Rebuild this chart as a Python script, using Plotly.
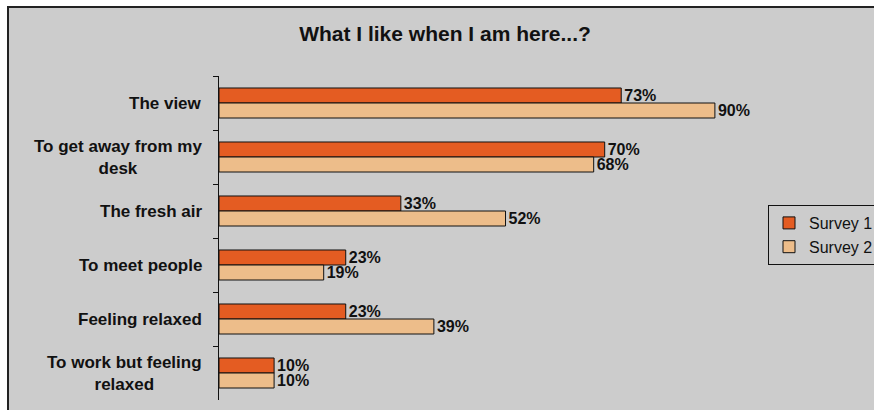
import plotly.graph_objects as go

categories = ["The view", "To get away from my desk", "The fresh air",
              "To meet people", "Feeling relaxed", "To work but feeling relaxed"]
category_labels = ["The view", "To get away from my<br>desk", "The fresh air",
                   "To meet people", "Feeling relaxed", "To work but feeling<br>relaxed"]
survey1 = [0.73, 0.70, 0.33, 0.23, 0.23, 0.10]
survey2 = [0.90, 0.68, 0.52, 0.19, 0.39, 0.10]
series_names = ["Survey 1", "Survey 2"]
colors = ["#E45C22", "#EDBD8A"]

W, H = 874, 410
L, R, T, B = 219, 104, 76, 10
pw = W - L - R
ph = H - T - B

fig = go.Figure()
for name, vals, col in zip(series_names, [survey1, survey2], colors):
    fig.add_trace(go.Bar(
        y=categories, x=vals, name=name, orientation="h",
        marker=dict(color=col, line=dict(color="#111111", width=1)),
        texttemplate="<b>%{x:.0%}</b>", textposition="outside",
        constraintext="none",
        textfont=dict(family="Liberation Sans, Arial", size=16, color="#111111"),
        cliponaxis=False,
    ))

def px_x(p):
    return (p - L) / pw

def px_y(p):
    return (H - B - p) / ph

shapes = [dict(type="rect", xref="paper", yref="paper",
               x0=px_x(8), x1=px_x(W + 20), y0=px_y(H + 20), y1=px_y(7),
               fillcolor="#CCCCCC", line=dict(color="#222222", width=2), layer="below")]

annotations = []
for cat, lab in zip(categories, category_labels):
    annotations.append(dict(
        xref="paper", yref="y", x=px_x(204), y=cat, text="<b>" + lab + "</b>",
        xanchor="right", yanchor="middle", align="center", showarrow=False,
        font=dict(family="Liberation Sans, Arial", size=17, color="#111111")))

fig.update_layout(
    width=W, height=H,
    margin=dict(l=L, r=R, t=T, b=B, autoexpand=False),
    paper_bgcolor="white", plot_bgcolor="rgba(0,0,0,0)",
    barmode="group", bargap=0.444, bargroupgap=0,
    title=dict(text="<b>What I like when I am here...?</b>",
               x=445 / W, xanchor="center", xref="container",
               y=1 - 33.5 / H, yanchor="middle", yref="container",
               font=dict(family="Liberation Sans, Arial", size=21, color="#111111")),
    xaxis=dict(range=[0, 1], visible=False, fixedrange=True),
    yaxis=dict(autorange="reversed", showticklabels=False, showline=True,
               linecolor="#111111", linewidth=1, ticks="outside", ticklen=5,
               tickcolor="#111111", tickson="boundaries", showgrid=False,
               zeroline=False, fixedrange=True),
    legend=dict(x=px_x(768), xanchor="left", y=px_y(265), yanchor="bottom",
                bgcolor="#CCCCCC", bordercolor="#111111", borderwidth=1,
                font=dict(family="Liberation Sans, Arial", size=16, color="#111111"),
                traceorder="normal", itemclick=False, itemwidth=30),
    shapes=shapes, annotations=annotations,
    showlegend=True,
)

fig.write_html("out.html", config={"displayModeBar": False},
               post_script="document.body.style.margin='0';document.body.style.overflow='hidden';")
